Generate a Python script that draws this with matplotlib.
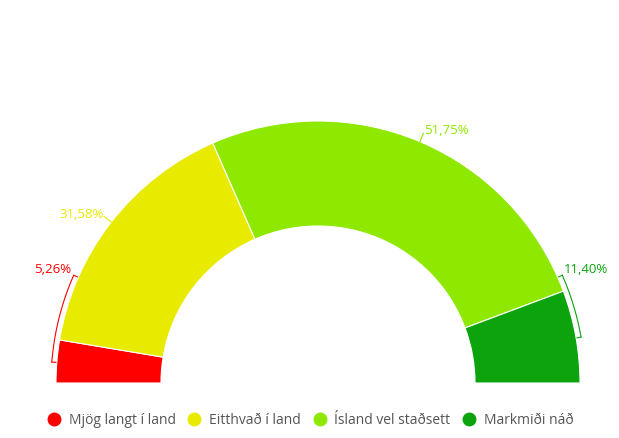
"""Half-donut gauge: Iceland progress toward goals."""
import numpy as np
import matplotlib.pyplot as plt
from matplotlib.lines import Line2D

categories = ["Mjög langt í land", "Eitthvað í land", "Ísland vel staðsett", "Markmiði náð"]
shares = [5.26, 31.58, 51.75, 11.40]
labels = ["5,26%", "31,58%", "51,75%", "11,40%"]
colors = ["#ff0000", "#e8eb00", "#8fe800", "#0ca30c"]

plt.rcParams["font.family"] = ["Open Sans", "DejaVu Sans"]

fig = plt.figure(figsize=(6.19, 4.38), dpi=100)
ax = fig.add_axes([0, 0, 1, 1])

cx, cy, R, W = 318, 55, 262, 105
vals = shares + [sum(shares)]  # hidden lower half
wedges, _ = ax.pie(vals, colors=colors + ["none"], startangle=180, counterclock=False,
                   radius=R, center=(cx, cy),
                   wedgeprops=dict(width=W, edgecolor="white", linewidth=0.8))
wedges[-1].set_visible(False)

# small slices get a bracket along the rim; angles are layout only
brackets = {0: (156.2, 175.5), 3: (9.9, 23.8)}

for i, w in enumerate(wedges[:-1]):
    col = colors[i]
    if i in brackets:
        a1, a2 = brackets[i]
        t = np.radians(np.linspace(a1, a2, 40))
        rb = 267
        ax.plot(cx + rb * np.cos(t), cy + rb * np.sin(t), color=col, lw=0.8)
        for a in (a1, a2):
            ar = np.radians(a)
            ax.plot([cx + rb * np.cos(ar), cx + (rb - 4) * np.cos(ar)],
                    [cy + rb * np.sin(ar), cy + (rb - 4) * np.sin(ar)], color=col, lw=0.8)
        top = np.radians(a1 if i == 0 else a2)
        tx = cx + rb * np.cos(top)
        ty = cy + rb * np.sin(top)
        ha = "right" if i == 0 else "left"
        dx = -2 if i == 0 else 2
        ax.text(tx + dx, ty + 6, labels[i], color=col, ha=ha, va="center", fontsize=9.5)
    else:
        mid = np.radians((w.theta1 + w.theta2) / 2)
        ax.plot([cx + R * np.cos(mid), cx + (R + 9) * np.cos(mid)],
                [cy + R * np.sin(mid), cy + (R + 9) * np.sin(mid)], color=col, lw=0.8)
        lx = cx + (R + 10) * np.cos(mid)
        ly = cy + (R + 10) * np.sin(mid)
        ha = "left" if np.cos(mid) > 0 else "right"
        ax.text(lx, ly + 1.5, labels[i], color=col, ha=ha, va="center", fontsize=9.5)

ax.set_xlim(0, 619)
ax.set_ylim(0, 438)
ax.set_aspect("equal")
ax.axis("off")

handles = [Line2D([], [], marker="o", linestyle="none", markersize=9,
                  markerfacecolor=c, markeredgecolor=c) for c in colors]
fig.legend(handles, categories, loc="center", bbox_to_anchor=(0.5, 1 - 420 / 438),
           ncol=4, frameon=False, fontsize=10, labelcolor="#555555",
           handletextpad=0.45, columnspacing=0.75, handlelength=1.2)

fig.savefig("out.png", dpi=100)
